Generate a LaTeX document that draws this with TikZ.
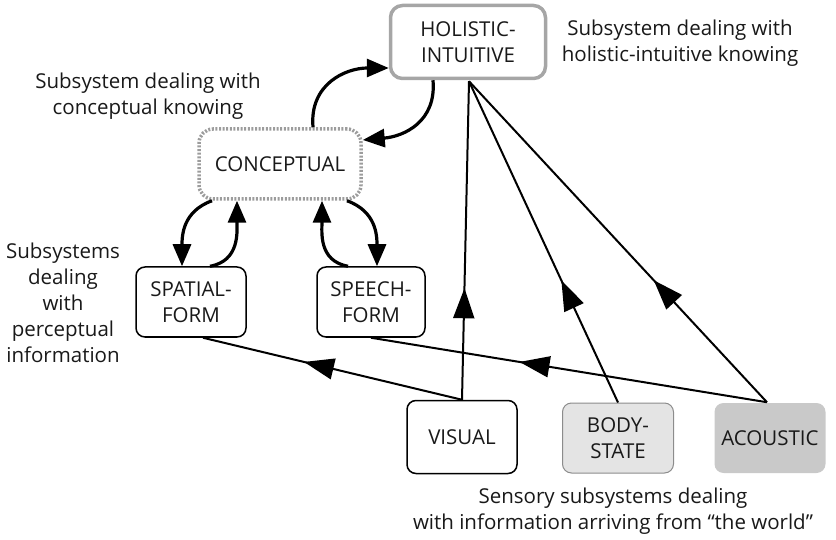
\documentclass[tikz,border=0pt]{standalone}
\usepackage{fontspec}
\setmainfont{Open Sans}
\usetikzlibrary{arrows.meta,calc,decorations.markings}
\definecolor{hgray}{HTML}{A6A6A6}
\definecolor{cgray}{HTML}{9C9C9C}
\definecolor{bfill}{HTML}{E4E4E4}
\definecolor{bedge}{HTML}{8C8C8C}
\definecolor{afill}{HTML}{C9C9C9}
\tikzset{
  txt/.style={font=\fontsize{20.5}{26}\selectfont, align=center, inner sep=0pt, text=black!90},
  box/.style={txt, draw=black, line width=1.5pt, rounded corners=9pt, minimum width=110pt, minimum height=70pt},
  curv/.style={line width=3.2pt, -{Triangle[length=22pt,width=18pt]}},
  link/.style={line width=2pt, postaction={decorate}},
  midarrow/.style={decoration={markings, mark=at position #1 with {\arrow{Triangle[length=30pt,width=21pt]}}}}
}
\begin{document}
\begin{tikzpicture}[x=1pt,y=1pt]
\useasboundingbox (0,0) rectangle (836,-540);
% nodes
\node[box, draw=hgray, line width=3.5pt, rounded corners=12pt, minimum width=155pt, minimum height=73pt] (holistic) at (468,-42) {HOLISTIC-\\INTUITIVE};
\node[box, draw=cgray, line width=3.5pt, dash pattern=on 2pt off 1.6pt, rounded corners=14pt, minimum width=162pt, minimum height=70pt] (conceptual) at (280,-164) {CONCEPTUAL};
\node[box] (spatial) at (191,-302) {SPATIAL-\\FORM};
\node[box, minimum width=108pt] (speech) at (371,-302) {SPEECH-\\FORM};
\node[box, minimum height=73pt] (visual) at (462,-437) {VISUAL};
\node[box, draw=bedge, line width=1pt, fill=bfill, minimum width=111pt] (body) at (618,-438) {BODY-\\STATE};
\node[box, draw=none, fill=afill, minimum width=111pt] (acoustic) at (770,-438) {ACOUSTIC};
% labels
\node[txt] (lholistic) at (680,-43) {Subsystem dealing with\\holistic-intuitive knowing};
\node[txt] (lconceptual) at (148,-96) {Subsystem dealing with\\conceptual knowing};
\node[txt] (lperceptual) at (63,-303) {Subsystems\\dealing\\with\\perceptual\\information};
\node[txt] (lsensory) at (613,-511) {Sensory subsystems dealing\\with information arriving from “the world”};
% curved arrows
\draw[curv] ($(conceptual.north)+(33,0)$) to[out=95,in=180,looseness=1.15] ($(holistic.west)+(0,-26)$);
\draw[curv] ($(holistic.south)+(-35,0)$) to[out=-85,in=5,looseness=1.15] ($(conceptual.east)+(0,24)$);
\draw[curv] ($(conceptual.south)+(-68,0)$) to[out=200,in=90,looseness=1.1] ($(spatial.north)+(-9,0)$);
\draw[curv] ($(spatial.north)+(19,0)$) to[out=10,in=-90,looseness=1.1] ($(conceptual.south)+(-43,0)$);
\draw[curv] ($(speech.north)+(-23,0)$) to[out=170,in=-90,looseness=1.1] ($(conceptual.south)+(42,0)$);
\draw[curv] ($(conceptual.south)+(67,0)$) to[out=-20,in=90,looseness=1.1] ($(speech.north)+(6,0)$);
% straight links
\coordinate (hbot) at ($(holistic.south)+(1,-1)$);
\draw[link, midarrow=0.35] (visual.north) -- (hbot);
\draw[link, midarrow=0.38] (body.north) -- (hbot);
\coordinate (atop) at ($(acoustic.north)+(-3,0)$);
\draw[link, midarrow=0.38] (atop) -- (hbot);
\draw[link, midarrow=0.625] (atop) -- (speech.south);
\draw[link, midarrow=0.61] (visual.north) -- ($(spatial.south)+(12,0)$);
\end{tikzpicture}
\end{document}
